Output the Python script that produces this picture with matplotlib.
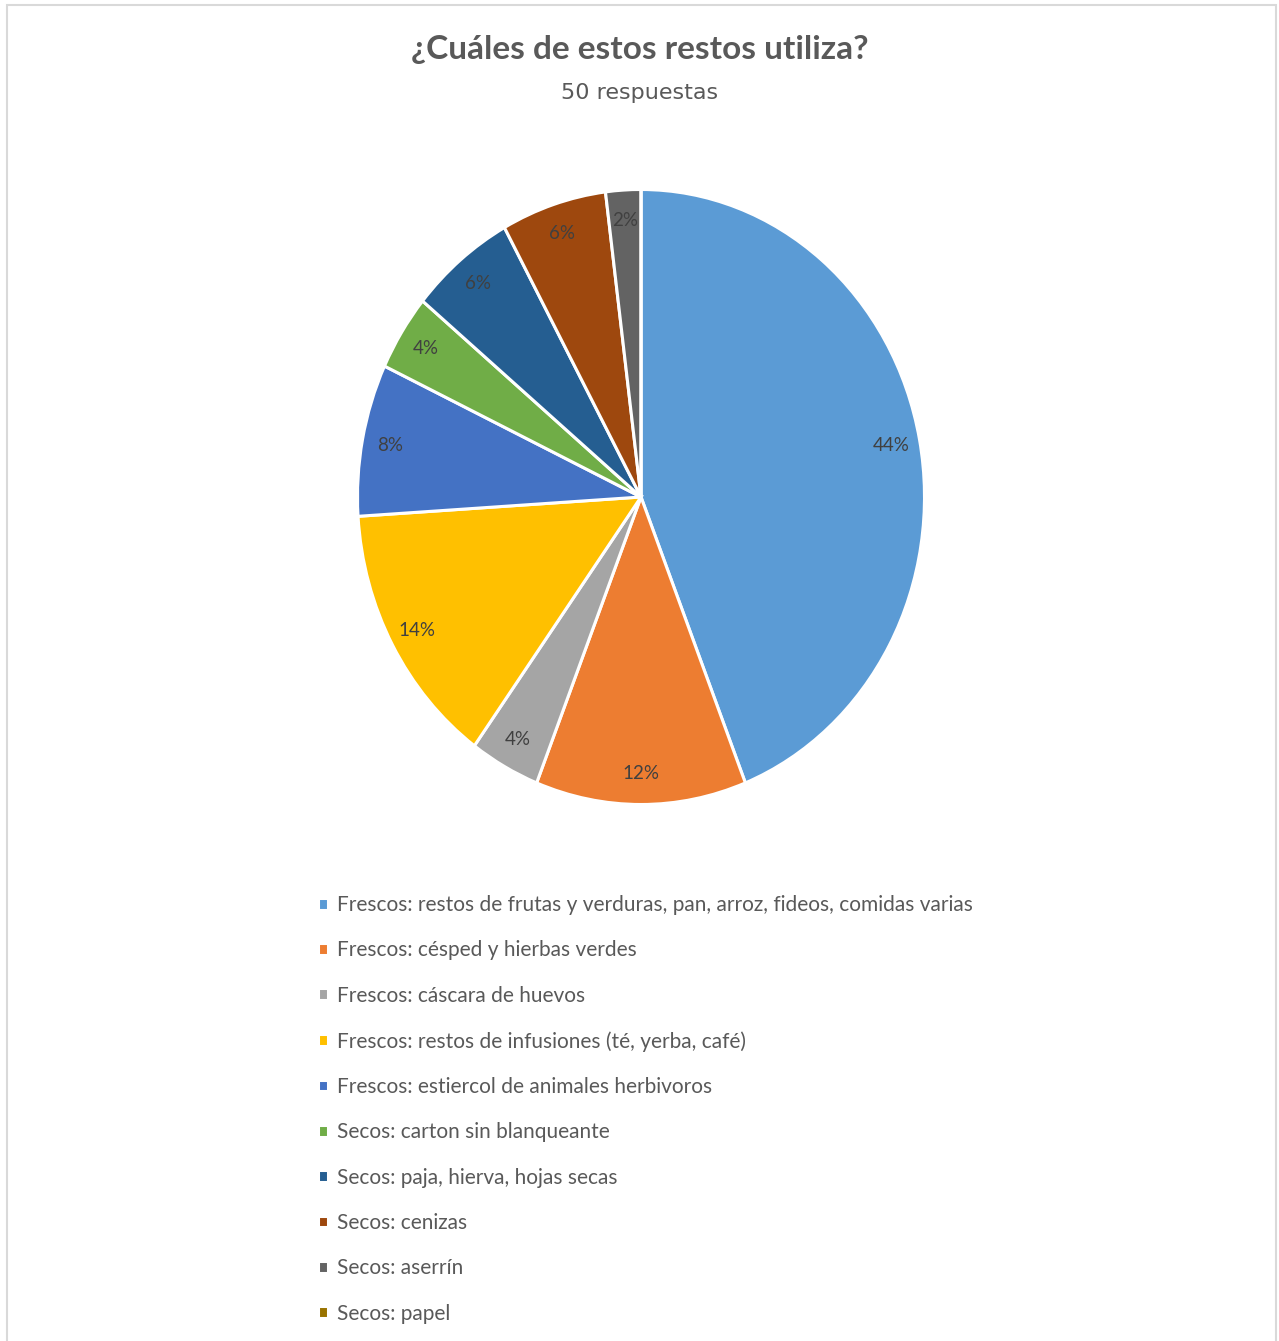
import matplotlib
matplotlib.use("Agg")
import matplotlib.pyplot as plt
from matplotlib.patches import Rectangle


TITLE = "¿Cuáles de estos restos utiliza?"
SUBTITLE = "50 respuestas"

LABELS = [
    "Frescos: restos de frutas y verduras, pan, arroz, fideos, comidas varias",
    "Frescos: césped y hierbas verdes",
    "Frescos: cáscara de huevos",
    "Frescos: restos de infusiones (té, yerba, café)",
    "Frescos: estiercol de animales herbivoros",
    "Secos: carton sin blanqueante",
    "Secos: paja, hierva, hojas secas",
    "Secos: cenizas",
    "Secos: aserrín",
    "Secos: papel",
]
VALUES = [44, 12, 4, 14, 8, 4, 6, 6, 2, 0]
COLORS = ["#5B9BD5", "#ED7D31", "#A5A5A5", "#FFC000", "#4472C4",
          "#70AD47", "#255E91", "#9E480E", "#636363", "#997300"]


def pct_label(p):
    # papel queda en 0%, no se rotula
    if p < 0.5:
        return ""
    return f"{p:.0f}%"


def main():
    plt.rcParams["font.family"] = ["Lato", "DejaVu Sans"]
    W, H = 1279, 1341
    fig = plt.figure(figsize=(W / 100, H / 100), dpi=100)

    # borde gris claro del gráfico
    fig.patches.append(Rectangle((7 / W, -0.01), (1276 - 7) / W, 1 - 5 / H + 0.01,
                                 transform=fig.transFigure, fill=False,
                                 edgecolor="#D9D9D9", linewidth=1.5))

    fig.text(640 / W, 1 - 50 / H, TITLE, ha="center", va="center",
             fontsize=24, fontweight="bold", color="#595959")
    fig.text(640 / W, 1 - 93 / H, SUBTITLE, ha="center", va="center",
             fontsize=16, color="#595959", family="DejaVu Sans")

    # pie (algo estirado en vertical, como en la imagen)
    cx, cy, rx, ry = 641, 497, 283.5, 307.5
    ax = fig.add_axes([(cx - rx) / W, 1 - (cy + ry) / H, 2 * rx / W, 2 * ry / H])
    wedges, _, autotexts = ax.pie(
        VALUES, colors=COLORS, startangle=90, counterclock=False,
        autopct=pct_label, pctdistance=0.9,
        wedgeprops=dict(edgecolor="white", linewidth=2.2),
        textprops=dict(color="#404040", fontsize=13.5),
    )
    ax.set_aspect("auto")
    ax.set_xlim(-1, 1)
    ax.set_ylim(-1, 1)

    fig.legend(wedges, LABELS, loc="upper left",
               bbox_to_anchor=(318 / W, 1 - 895 / H), frameon=False,
               fontsize=15, handlelength=0.5, handleheight=0.5,
               handletextpad=0.4, labelspacing=1.216, labelcolor="#595959",
               borderpad=0, borderaxespad=0)

    fig.savefig("out.png", dpi=100)


if __name__ == "__main__":
    main()
